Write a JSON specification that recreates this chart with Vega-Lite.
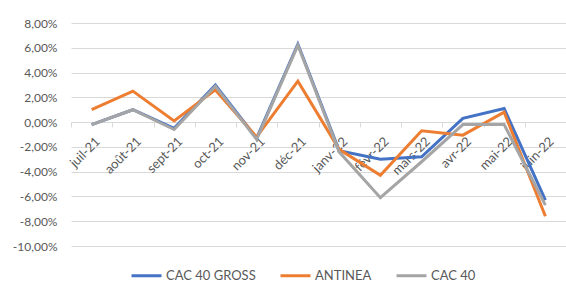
{
  "$schema": "https://vega.github.io/schema/vega-lite/v6.json",
  "width": 495,
  "height": 223,
  "autosize": {"type": "none"},
  "padding": {"left": 71, "top": 23, "right": 0, "bottom": 38},
  "background": "white",
  "config": {
    "view": {"stroke": null},
    "font": "Lato",
    "axis": {"labelFont": "Lato", "labelColor": "#595959", "labelFontSize": 12},
    "legend": {"labelFont": "Lato", "labelColor": "#595959", "labelFontSize": 13}
  },
  "data": {
    "values": [
      {"mois": "juil-21", "serie": "CAC 40 GROSS", "valeur": -0.2},
      {"mois": "août-21", "serie": "CAC 40 GROSS", "valeur": 1.0},
      {"mois": "sept-21", "serie": "CAC 40 GROSS", "valeur": -0.5},
      {"mois": "oct-21", "serie": "CAC 40 GROSS", "valeur": 3.0},
      {"mois": "nov-21", "serie": "CAC 40 GROSS", "valeur": -1.3},
      {"mois": "déc-21", "serie": "CAC 40 GROSS", "valeur": 6.3},
      {"mois": "janv-22", "serie": "CAC 40 GROSS", "valeur": -2.3},
      {"mois": "févr-22", "serie": "CAC 40 GROSS", "valeur": -3.0},
      {"mois": "mars-22", "serie": "CAC 40 GROSS", "valeur": -2.8},
      {"mois": "avr-22", "serie": "CAC 40 GROSS", "valeur": 0.3},
      {"mois": "mai-22", "serie": "CAC 40 GROSS", "valeur": 1.1},
      {"mois": "juin-22", "serie": "CAC 40 GROSS", "valeur": -6.3},
      {"mois": "juil-21", "serie": "ANTINEA", "valeur": 1.0},
      {"mois": "août-21", "serie": "ANTINEA", "valeur": 2.5},
      {"mois": "sept-21", "serie": "ANTINEA", "valeur": 0.1},
      {"mois": "oct-21", "serie": "ANTINEA", "valeur": 2.6},
      {"mois": "nov-21", "serie": "ANTINEA", "valeur": -1.2},
      {"mois": "déc-21", "serie": "ANTINEA", "valeur": 3.3},
      {"mois": "janv-22", "serie": "ANTINEA", "valeur": -2.2},
      {"mois": "févr-22", "serie": "ANTINEA", "valeur": -4.3},
      {"mois": "mars-22", "serie": "ANTINEA", "valeur": -0.7},
      {"mois": "avr-22", "serie": "ANTINEA", "valeur": -1.05},
      {"mois": "mai-22", "serie": "ANTINEA", "valeur": 0.8},
      {"mois": "juin-22", "serie": "ANTINEA", "valeur": -7.6},
      {"mois": "juil-21", "serie": "CAC 40", "valeur": -0.2},
      {"mois": "août-21", "serie": "CAC 40", "valeur": 1.0},
      {"mois": "sept-21", "serie": "CAC 40", "valeur": -0.6},
      {"mois": "oct-21", "serie": "CAC 40", "valeur": 2.9},
      {"mois": "nov-21", "serie": "CAC 40", "valeur": -1.4},
      {"mois": "déc-21", "serie": "CAC 40", "valeur": 6.2},
      {"mois": "janv-22", "serie": "CAC 40", "valeur": -2.4},
      {"mois": "févr-22", "serie": "CAC 40", "valeur": -6.1},
      {"mois": "mars-22", "serie": "CAC 40", "valeur": -3.2},
      {"mois": "avr-22", "serie": "CAC 40", "valeur": -0.2},
      {"mois": "mai-22", "serie": "CAC 40", "valeur": -0.2},
      {"mois": "juin-22", "serie": "CAC 40", "valeur": -6.7}
    ]
  },
  "mark": {"type": "line", "strokeWidth": 3, "strokeJoin": "miter"},
  "encoding": {
    "x": {
      "field": "mois",
      "type": "nominal",
      "sort": null,
      "scale": {"type": "band", "paddingInner": 0, "paddingOuter": 0},
      "axis": {
        "title": null,
        "offset": -124,
        "labelAngle": -45,
        "labelAlign": "right",
        "labelBaseline": "middle",
        "labelFontSize": 13,
        "labelPadding": 12,
        "labelOffset": 6,
        "tickBand": "extent",
        "ticks": true,
        "tickSize": 5,
        "tickColor": "#d9d9d9",
        "domain": true,
        "domainColor": "#d9d9d9",
        "grid": false
      }
    },
    "y": {
      "field": "valeur",
      "type": "quantitative",
      "scale": {"domain": [-10, 8], "nice": false, "zero": false},
      "axis": {
        "title": null,
        "values": [-10, -8, -6, -4, -2, 0, 2, 4, 6, 8],
        "labelExpr": "(datum.value < 0 ? '-' : '') + replace(format(abs(datum.value), '.2f'), '.', ',') + '%'",
        "domain": false,
        "ticks": false,
        "grid": true,
        "gridColor": "#d9d9d9",
        "gridWidth": 1,
        "labelPadding": 14
      }
    },
    "color": {
      "field": "serie",
      "type": "nominal",
      "sort": null,
      "scale": {
        "domain": ["CAC 40 GROSS", "ANTINEA", "CAC 40"],
        "range": ["#4472C4", "#ED7D31", "#A5A5A5"]
      },
      "legend": {
        "title": null,
        "orient": "none",
        "direction": "horizontal",
        "legendX": 59,
        "legendY": 236,
        "symbolType": "stroke",
        "symbolSize": 900,
        "symbolStrokeWidth": 3,
        "labelOffset": 3,
        "columnPadding": 18,
        "padding": 0
      }
    }
  }
}
